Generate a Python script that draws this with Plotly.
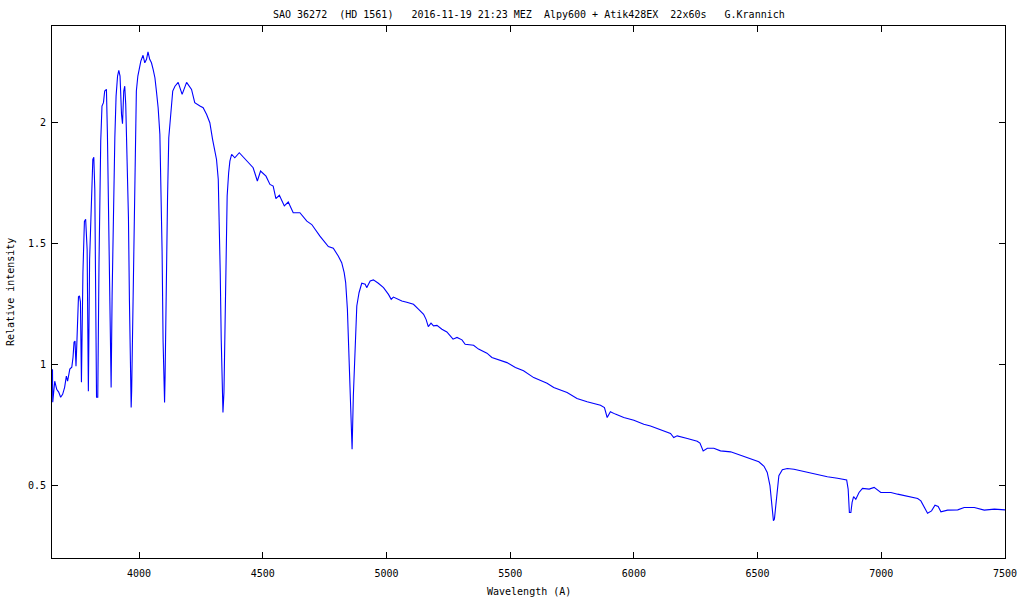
import plotly.graph_objects as go

# Spectrum
wavelength = [
    3650, 3651, 3659, 3667, 3675, 3683, 3691, 3699, 3706, 3711, 3720, 3728, 3733, 3737, 3741,
    3745, 3749, 3755, 3759, 3763, 3767, 3773, 3779, 3784, 3790, 3795, 3800, 3807, 3813, 3817,
    3821, 3828, 3833, 3838, 3842, 3845, 3850, 3856, 3861, 3868, 3872, 3876, 3880, 3884, 3887,
    3891, 3896, 3902, 3907, 3913, 3918, 3923, 3929, 3933, 3938, 3942, 3946, 3951, 3957, 3961,
    3965, 3968, 3970, 3974, 3979, 3984, 3989, 3995, 4000, 4007, 4016, 4023, 4030, 4036, 4043,
    4050, 4057, 4064, 4070, 4077, 4084, 4088, 4093, 4097, 4100, 4103, 4105, 4109, 4115, 4120,
    4128, 4136, 4145, 4158, 4174, 4192, 4212, 4225, 4246, 4259, 4273, 4286, 4297, 4306, 4313,
    4320, 4324, 4328, 4332, 4336, 4339, 4343, 4347, 4351, 4356, 4362, 4367, 4374, 4387, 4405,
    4424, 4441, 4461, 4478, 4491, 4513, 4529, 4542, 4553, 4567, 4587, 4603, 4623, 4650, 4678,
    4698, 4731, 4765, 4785, 4805, 4819, 4829, 4835, 4842, 4849, 4856, 4861, 4866, 4873, 4880,
    4889, 4900, 4914, 4920, 4934, 4947, 4967, 4988, 5008, 5019, 5028, 5048, 5062, 5082, 5109,
    5129, 5150, 5160, 5169, 5180, 5190, 5204, 5224, 5244, 5258, 5269, 5285, 5305, 5318, 5352,
    5372, 5406, 5426, 5460, 5487, 5521, 5554, 5595, 5649, 5676, 5730, 5770, 5811, 5865, 5881,
    5892, 5905, 5925, 5959, 6000, 6040, 6067, 6108, 6148, 6161, 6175, 6216, 6256, 6267, 6280,
    6297, 6323, 6350, 6391, 6431, 6472, 6505, 6526, 6539, 6550, 6557, 6564, 6568, 6573, 6580,
    6586, 6600, 6620, 6647, 6688, 6728, 6782, 6823, 6860, 6866, 6871, 6877, 6882, 6888, 6897,
    6910, 6924, 6951, 6971, 6998, 7039, 7066, 7106, 7147, 7160, 7173, 7187, 7203, 7217, 7230,
    7241, 7268, 7309, 7335, 7376, 7416, 7457, 7500,
]
intensity = [
    0.981, 0.844, 0.931, 0.898, 0.886, 0.865, 0.877, 0.906, 0.952, 0.931, 0.981, 0.989, 1.030, 1.092, 1.097,
    0.993, 1.105, 1.280, 1.284, 1.259, 0.927, 1.381, 1.592, 1.601, 1.477, 0.890, 1.435, 1.683, 1.848, 1.857,
    1.724, 0.865, 0.865, 1.422, 1.767, 1.924, 2.069, 2.083, 2.131, 2.138, 1.952, 1.650, 1.304, 0.967, 0.905,
    1.290, 1.635, 1.938, 2.110, 2.193, 2.216, 2.193, 2.034, 1.996, 2.131, 2.151, 2.076, 1.883, 1.607, 1.263,
    0.905, 0.822, 0.891, 1.180, 1.593, 1.828, 2.131, 2.193, 2.227, 2.255, 2.279, 2.248, 2.262, 2.293, 2.262,
    2.248, 2.220, 2.186, 2.131, 2.062, 1.952, 1.773, 1.469, 1.097, 0.877, 0.843, 0.946, 1.332, 1.690, 1.938,
    2.034, 2.131, 2.151, 2.167, 2.117, 2.167, 2.138, 2.083, 2.069, 2.062, 2.034, 2.000, 1.931, 1.890, 1.848,
    1.766, 1.600, 1.380, 1.105, 0.857, 0.802, 0.884, 1.174, 1.449, 1.697, 1.793, 1.841, 1.869, 1.855, 1.876,
    1.855, 1.835, 1.814, 1.759, 1.800, 1.779, 1.745, 1.738, 1.686, 1.700, 1.656, 1.672, 1.628, 1.628, 1.593,
    1.579, 1.531, 1.488, 1.481, 1.449, 1.421, 1.380, 1.339, 1.229, 1.008, 0.802, 0.650, 0.870, 1.077, 1.242,
    1.297, 1.336, 1.332, 1.318, 1.346, 1.350, 1.336, 1.318, 1.290, 1.270, 1.279, 1.270, 1.263, 1.258, 1.249,
    1.229, 1.208, 1.187, 1.157, 1.171, 1.160, 1.162, 1.146, 1.135, 1.118, 1.105, 1.112, 1.102, 1.084, 1.080,
    1.064, 1.047, 1.029, 1.019, 1.008, 0.988, 0.974, 0.946, 0.923, 0.905, 0.884, 0.860, 0.846, 0.832, 0.822,
    0.781, 0.805, 0.795, 0.781, 0.770, 0.753, 0.746, 0.730, 0.715, 0.698, 0.705, 0.694, 0.683, 0.675, 0.643,
    0.654, 0.654, 0.643, 0.639, 0.625, 0.609, 0.598, 0.579, 0.554, 0.499, 0.416, 0.354, 0.361, 0.416, 0.499,
    0.540, 0.565, 0.570, 0.567, 0.558, 0.547, 0.536, 0.530, 0.523, 0.485, 0.388, 0.388, 0.430, 0.454, 0.443,
    0.471, 0.488, 0.485, 0.492, 0.471, 0.471, 0.464, 0.454, 0.446, 0.436, 0.409, 0.385, 0.395, 0.418, 0.413,
    0.391, 0.398, 0.399, 0.409, 0.409, 0.398, 0.402, 0.399,
]

x_ticks = [4000, 4500, 5000, 5500, 6000, 6500, 7000, 7500]
y_ticks = [0.5, 1, 1.5, 2]

title_text = "SAO 36272  (HD 1561)   2016-11-19 21:23 MEZ  Alpy600 + Atik428EX  22x60s   G.Krannich"
x_title = "Wavelength (A)"
y_title = "Relative intensity"

FONT = "DejaVu Sans Mono"

fig = go.Figure()
fig.add_trace(go.Scatter(
    x=wavelength, y=intensity, mode="lines",
    line=dict(color="#0000ff", width=1.1),
    showlegend=False, hoverinfo="skip",
))

axis_common = dict(
    showgrid=False, zeroline=False, showline=True, linecolor="black", linewidth=1,
    mirror="allticks", ticks="inside", ticklen=6, tickcolor="black", tickwidth=1,
    tickfont=dict(family=FONT, size=10, color="black"), automargin=False,
)

fig.update_xaxes(range=[3648, 7500], tickvals=x_ticks, ticktext=[str(v) for v in x_ticks],
                 ticklabelstandoff=6, **axis_common)
fig.update_yaxes(range=[0.2, 2.4], tickvals=y_ticks, ticktext=["0.5", "1", "1.5", "2"],
                 ticklabelstandoff=3, **axis_common)

fig.update_layout(
    width=1024, height=600,
    margin=dict(l=52, r=19, t=26, b=42),
    paper_bgcolor="white", plot_bgcolor="white",
    font=dict(family=FONT, size=10, color="black"),
    annotations=[
        dict(text=title_text, x=0.5, y=1, xref="paper", yref="paper",
             xanchor="center", yanchor="middle", yshift=12, showarrow=False,
             font=dict(family=FONT, size=10, color="black")),
        dict(text=x_title, x=0.5, y=0, xref="paper", yref="paper",
             xanchor="center", yanchor="middle", yshift=-33, showarrow=False,
             font=dict(family=FONT, size=10, color="black")),
        dict(text=y_title, x=0, y=0.5, xref="paper", yref="paper",
             xanchor="center", yanchor="middle", xshift=-42, textangle=-90, showarrow=False,
             font=dict(family=FONT, size=10, color="black")),
    ],
)

fig.write_html("out.html", config={"displayModeBar": False},
               post_script="document.body.style.margin='0';")
